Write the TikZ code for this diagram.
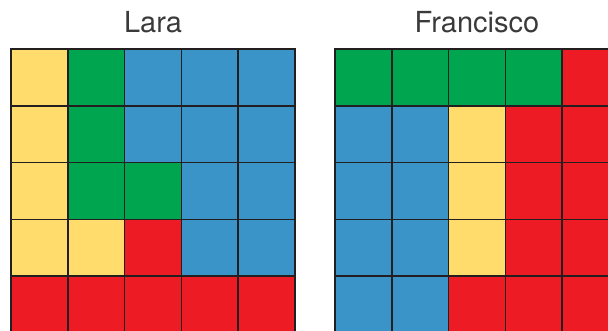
\documentclass[tikz,border=0pt]{standalone}
\usepackage{fontspec}
\setmainfont{TeX Gyre Heros}
\definecolor{cY}{HTML}{FFDC6B}
\definecolor{cG}{HTML}{00A550}
\definecolor{cB}{HTML}{3A94C8}
\definecolor{cR}{HTML}{ED1C24}
\definecolor{gridline}{HTML}{231F20}
\definecolor{title}{HTML}{3A3A3A}
\tikzset{
  cell/.style={draw=gridline, line width=1.7pt},
  titletext/.style={text=title, font=\fontsize{29}{32}\selectfont, inner sep=0pt, anchor=base}
}
\begin{document}
\begin{tikzpicture}[x=1pt,y=1pt]
\useasboundingbox (0,0) rectangle (608,331);
\clip (0,0) rectangle (608,331);
\def\cs{56.8}
% Lara grid
\foreach \cols [count=\r] in {{Y,G,B,B,B},{Y,G,B,B,B},{Y,G,G,B,B},{Y,Y,R,B,B},{R,R,R,R,R}}{
  \foreach \c [count=\i] in \cols {
    \path[cell, fill=c\c] ({11+(\i-1)*\cs},{331-49-(\r-1)*\cs}) rectangle ++(\cs,-\cs);
  }
}
% Francisco grid
\foreach \cols [count=\r] in {{G,G,G,G,R},{B,B,Y,R,R},{B,B,Y,R,R},{B,B,Y,R,R},{B,B,R,R,R}}{
  \foreach \c [count=\i] in \cols {
    \path[cell, fill=c\c] ({335+(\i-1)*\cs},{331-49-(\r-1)*\cs}) rectangle ++(\cs,-\cs);
  }
}
\node[titletext] (lara) at (153,298) {Lara};
\node[titletext] (francisco) at (477,298) {Francisco};
\end{tikzpicture}
\end{document}
